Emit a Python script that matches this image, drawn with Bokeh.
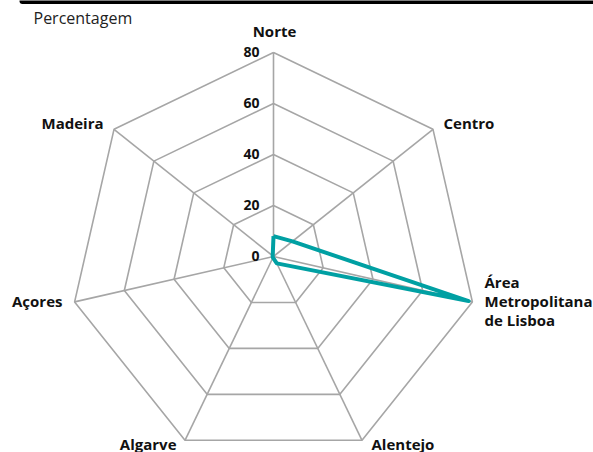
from bokeh.plotting import figure
from bokeh.models import Range1d, ColumnDataSource
from bokeh.core.properties import value
from bokeh.embed import file_html
from bokeh.resources import INLINE
import math

# ---- data ----
regions = ["Norte", "Centro", "Área Metropolitana de Lisboa", "Alentejo", "Algarve", "Açores", "Madeira"]
percent = [8, 9.5, 78.5, 3, 0.5, 0.3, 0.4]
ring_values = [20, 40, 60, 80]
tick_labels = ["0", "20", "40", "60", "80"]
tick_values = [0, 20, 40, 60, 80]

# ---- layout (pixel space) ----
W, H = 593, 452
CX, CY, R = 273, 256, 204
VMAX = 80
FONT = "Open Sans"

p = figure(width=W, height=H, output_backend="svg", toolbar_location=None,
           x_range=Range1d(0, W), y_range=Range1d(H, 0), min_border=0)
p.axis.visible = False
p.grid.visible = False
p.outline_line_color = None
p.background_fill_color = "white"
p.border_fill_color = "white"

n = len(regions)
angles = [math.pi / 2 - 2 * math.pi * i / n for i in range(n)]

def pt(v, a):
    r = v / VMAX * R
    return CX + r * math.cos(a), CY - r * math.sin(a)

# top black bar
p.line([22, 620], [0.5, 0.5], line_color="black", line_width=6, line_cap="round")

# rings
for rv in ring_values:
    xs, ys = [], []
    for a in angles + [angles[0]]:
        x, y = pt(rv, a)
        xs.append(x); ys.append(y)
    p.line(xs, ys, line_color="#a6a6a6", line_width=1.6)

# spokes
for a in angles:
    x, y = pt(VMAX, a)
    p.line([CX, x], [CY, y], line_color="#a6a6a6", line_width=1.6)

# series
sx, sy = [], []
for v, a in zip(percent + [percent[0]], angles + [angles[0]]):
    x, y = pt(v, a)
    sx.append(x); sy.append(y)
p.line(sx, sy, line_color="#00a0a3", line_width=4, line_join="round")

# tick labels
ty = [CY - v / VMAX * R - 1 for v in tick_values]
p.text(x=[CX - 14] * len(tick_values), y=ty, text=tick_labels,
       text_align="right", text_baseline="middle", text_font=value(FONT),
       text_font_style="bold", text_font_size="14px", text_color="#111111")

# category labels
lab = dict(
    x=[274, 443, 484, 484, 484, 371, 176, 62, 103],
    y=[30, 122, 281, 300, 319, 443, 443, 300, 122],
    t=["Norte", "Centro", "Área", "Metropolitana", "de Lisboa", "Alentejo", "Algarve", "Açores", "Madeira"],
    al=["center", "left", "left", "left", "left", "left", "right", "right", "right"],
)
src = ColumnDataSource(lab)
p.text(x="x", y="y", text="t", text_align="al", source=src, text_baseline="middle",
       text_font=value(FONT), text_font_style="bold", text_font_size="15px", text_color="#111111")

p.text(x=[33], y=[17], text=["Percentagem"], text_align="left", text_baseline="middle",
       text_font=value(FONT), text_font_size="16px", text_color="#222222")

open("out.html", "w").write(file_html(p, INLINE))
